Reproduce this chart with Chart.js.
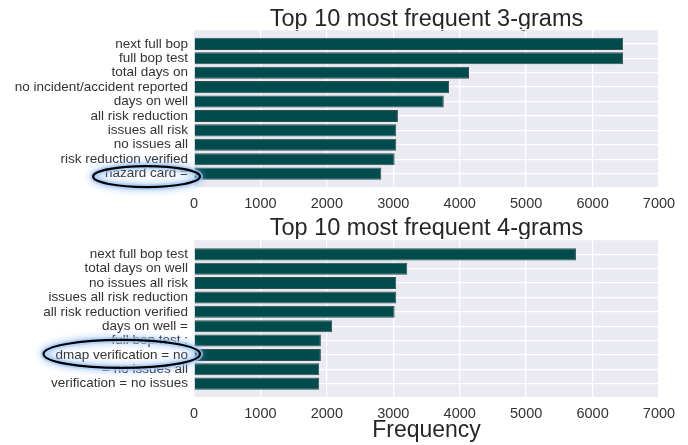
<!DOCTYPE html>
<html>
<head>
<meta charset="utf-8">
<script src="https://cdn.jsdelivr.net/npm/chart.js@4"></script>
<style>
    body { margin: 0; background: #fff; }
    .wrap { position: relative; width: 688px; height: 445px; }
    .box { position: absolute; left: 0; width: 688px; }
</style>
</head>
<body>
<div class="wrap">
    <div class="box" style="top:0;height:215px"><canvas id="chart3"></canvas></div>
    <div class="box" style="top:215px;height:230px"><canvas id="chart4"></canvas></div>
</div>
<script>
const labels3 = [
    'next full bop', 'full bop test', 'total days on', 'no incident/accident reported',
    'days on well', 'all risk reduction', 'issues all risk', 'no issues all',
    'risk reduction verified', 'hazard card ='
];
const values3 = [6460, 6460, 4140, 3840, 3760, 3070, 3045, 3045, 3020, 2820];

const labels4 = [
    'next full bop test', 'total days on well', 'no issues all risk', 'issues all risk reduction',
    'all risk reduction verified', 'days on well =', 'full bop test :', 'dmap verification = no',
    '= no issues all', 'verification = no issues'
];
const values4 = [5750, 3210, 3045, 3045, 3020, 2080, 1910, 1910, 1885, 1885];

const xTicks = [0, 1000, 2000, 3000, 4000, 5000, 6000, 7000];

const FONT = "'Liberation Sans', Arial, sans-serif";
const BAR_COLOR = '#004b4b';
const TEXT_COLOR = '#333333';

// seaborn style grey plot background + title centred over the plot area
const plotDecor = {
    id: 'plotDecor',
    beforeDraw(chart, args, opts) {
        const a = chart.chartArea;
        const ctx = chart.ctx;
        ctx.save();
        ctx.fillStyle = '#eaeaf2';
        ctx.fillRect(a.left, a.top, a.right - a.left, a.bottom - a.top);
        ctx.fillStyle = '#262626';
        ctx.font = '23.5px ' + FONT;
        ctx.textAlign = 'center';
        ctx.textBaseline = 'alphabetic';
        ctx.fillText(opts.title, (a.left + a.right) / 2, opts.titleY);
        ctx.restore();
    }
};

// hand-drawn style ellipse around one of the tick labels
const circleLabel = {
    id: 'circleLabel',
    afterDraw(chart, args, opts) {
        if (opts.text == null) return;
        const yScale = chart.scales.y;
        const ctx = chart.ctx;
        const font = yScale.options.ticks.font;
        ctx.save();
        ctx.font = font.size + 'px ' + font.family;
        const w = ctx.measureText(opts.text).width;
        const right = yScale.right - yScale.options.ticks.padding;
        const cx = right - w / 2;
        const cy = yScale.getPixelForValue(opts.index) + opts.dy;
        const rx = w / 2 + 12;
        const ry = opts.ry;
        ctx.beginPath();
        ctx.ellipse(cx, cy, rx, ry, 0, 0, Math.PI * 2);
        ctx.shadowColor = 'rgba(110, 165, 240, 0.9)';
        ctx.shadowBlur = 7;
        ctx.strokeStyle = 'rgba(170, 205, 245, 0.7)';
        ctx.lineWidth = 6;
        ctx.stroke();
        ctx.shadowBlur = 0;
        ctx.strokeStyle = '#000';
        ctx.lineWidth = 2.2;
        ctx.stroke();
        ctx.restore();
    }
};

function makeChart(canvasId, title, labels, values, opts) {
    return new Chart(document.getElementById(canvasId).getContext('2d'), {
        type: 'bar',
        data: {
            datasets: [{
                data: values.map((v, i) => ({ x: v, y: i })),
                backgroundColor: BAR_COLOR,
                borderColor: '#36504f',
                borderWidth: 1,
                barPercentage: 0.84,
                categoryPercentage: 1
            }]
        },
        options: {
            indexAxis: 'y',
            responsive: true,
            maintainAspectRatio: false,
            animation: false,
            layout: {
                autoPadding: false,
                padding: { left: 0, right: 29, top: opts.plotTop, bottom: 0 }
            },
            plugins: {
                legend: { display: false },
                tooltip: { enabled: false },
                title: { display: false },
                plotDecor: { title: title, titleY: opts.titleY },
                circleLabel: {
                    index: opts.circleIndex,
                    text: labels[opts.circleIndex],
                    ry: opts.ry,
                    dy: opts.circleDy
                }
            },
            scales: {
                x: {
                    type: 'linear',
                    min: 0,
                    max: 7000,
                    afterBuildTicks: scale => { scale.ticks = xTicks.map(v => ({ value: v })); },
                    ticks: {
                        color: TEXT_COLOR,
                        font: { family: FONT, size: 14.5 },
                        padding: opts.xPad,
                        callback: v => String(v)
                    },
                    grid: { color: '#ffffff', lineWidth: 1.3, drawTicks: false },
                    border: { display: false },
                    title: {
                        display: !!opts.xTitle,
                        text: opts.xTitle || '',
                        color: '#262626',
                        font: { family: FONT, size: 23 },
                        padding: { top: 0, bottom: 1 }
                    },
                    afterFit: scale => { scale.height = opts.xHeight; }
                },
                y: {
                    type: 'linear',
                    min: -1,
                    max: 10,
                    reverse: true,
                    offset: false,
                    ticks: {
                        stepSize: 1,
                        maxTicksLimit: 20,
                        autoSkip: false,
                        color: TEXT_COLOR,
                        font: { family: FONT, size: 13.5 },
                        padding: 6,
                        callback: v => labels[v] || ''
                    },
                    grid: { color: '#ffffff', lineWidth: 1.3, drawTicks: false, offset: false },
                    border: { display: false },
                    afterFit: scale => { scale.width = 194; }
                }
            }
        },
        plugins: [plotDecor, circleLabel]
    });
}

makeChart('chart3', 'Top 10 most frequent 3-grams', labels3, values3, {
    plotTop: 29.5, titleY: 26, xHeight: 27, xPad: 7, circleIndex: 9, ry: 10.5, circleDy: 3
});
makeChart('chart4', 'Top 10 most frequent 4-grams', labels4, values4, {
    plotTop: 25, titleY: 20, xHeight: 47, xPad: 7, xTitle: 'Frequency', circleIndex: 7, ry: 14, circleDy: -1
});
</script>
</body>
</html>
